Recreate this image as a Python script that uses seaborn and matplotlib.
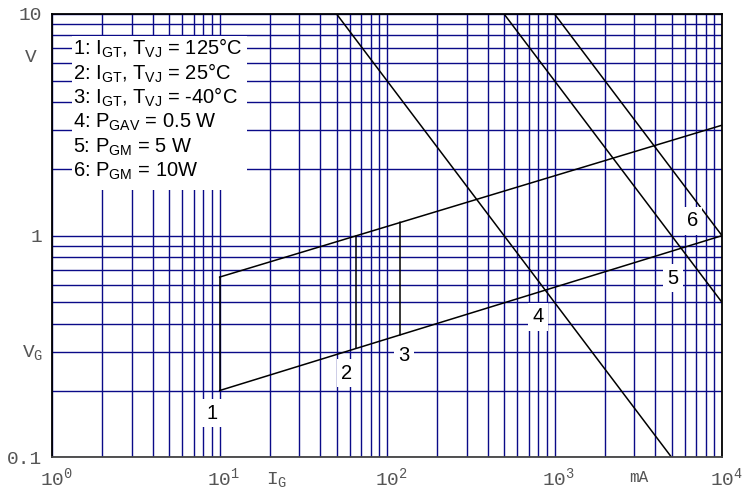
import matplotlib
matplotlib.use("Agg")
import numpy as np
import pandas as pd
import seaborn as sns
import matplotlib.pyplot as plt
from matplotlib.patches import Rectangle
from matplotlib.ticker import LogLocator, NullFormatter
from matplotlib.transforms import ScaledTranslation

# gate trigger area boundaries (I_G in mA, V_G in V)
boundary_i = [10, 10000]
boundary_v_high = [0.65, 3.15]
boundary_v_low = [0.2, 1.0]

# I_GT for T_VJ = 125 / 25 / -40 °C
igt_ma = [10, 65, 120]
igt_v_low = [0.2, 0.31, 0.357]
igt_v_high = [0.65, 1.0, 1.15]

# gate power limits
pgav_i, pgav_v = [50, 5000], [10, 0.1]        # 0.5 W
pgm5_i, pgm5_v = [500, 10000], [10, 0.5]      # 5 W
pgm10_i, pgm10_v = [1000, 10000], [10, 1.0]   # 10 W

legend_lines = [
    "1: I$_{GT}$, T$_{VJ}$ = 125°C",
    "2: I$_{GT}$, T$_{VJ}$ = 25°C",
    "3: I$_{GT}$, T$_{VJ}$ = -40°C",
    "4: P$_{GAV}$ = 0.5 W",
    "5: P$_{GM}$ = 5 W",
    "6: P$_{GM}$ = 10W",
]
curve_labels = ["1", "2", "3", "4", "5", "6"]
x_ticks = [1, 10, 100, 1000, 10000]
x_ticklabels = ["$10^{0}$", "$10^{1}$", "$10^{2}$", "$10^{3}$", "$10^{4}$"]
y_ticks = [0.1, 1, 10]
y_ticklabels = ["0.1", "1", "10"]

# build one long table, one unit per drawn line
rows = []
def add(name, xs, ys):
    for x, y in zip(xs, ys):
        rows.append({"curve": name, "I": x, "V": y})

add("upper", boundary_i, boundary_v_high)
add("lower", boundary_i, boundary_v_low)
for k, (i, lo, hi) in enumerate(zip(igt_ma, igt_v_low, igt_v_high)):
    add("igt%d" % k, [i, i], [lo, hi])
add("pgav", pgav_i, pgav_v)
add("pgm5", pgm5_i, pgm5_v)
add("pgm10", pgm10_i, pgm10_v)
df = pd.DataFrame(rows)

sns.set_theme(style="white")
plt.rcParams["font.family"] = ["Liberation Sans", "DejaVu Sans"]
plt.rcParams["mathtext.default"] = "regular"

fig = plt.figure(figsize=(7.44, 4.94), dpi=100)
ax = fig.add_axes([52 / 744, 1 - 457.3 / 494, 670 / 744, 443.3 / 494])
ax.set_xscale("log")
ax.set_yscale("log")

sns.lineplot(data=df, x="I", y="V", units="curve", estimator=None, sort=False,
             color="black", lw=1.1, ax=ax, zorder=2)

ax.set_xlim(1, 10000)
ax.set_ylim(0.1, 10)
ax.set_xlabel("")
ax.set_ylabel("")

# grid
grid_col = "#0a0a88"
for axis in (ax.xaxis, ax.yaxis):
    axis.set_major_locator(LogLocator(base=10, numticks=20))
    axis.set_minor_locator(LogLocator(base=10, subs=np.arange(2, 10), numticks=100))
    axis.set_minor_formatter(NullFormatter())
ax.grid(which="both", color=grid_col, lw=1.0)
ax.set_axisbelow(True)

for s in ax.spines.values():
    s.set_color("black")
    s.set_linewidth(1.3)
ax.spines["bottom"].set_color("#444444")

tick_col = "#555555"
mono = "Liberation Mono"
ax.set_xticks(x_ticks)
ax.set_xticklabels(x_ticklabels, fontfamily=mono, fontsize=14, color=tick_col)
ax.set_yticks(y_ticks)
ax.set_yticklabels(y_ticklabels, fontfamily=mono, fontsize=14, color=tick_col)
ax.tick_params(which="both", length=0)
ax.tick_params(axis="x", pad=7)
ax.tick_params(axis="y", pad=7)
for lbl in ax.get_xticklabels():
    lbl.set_transform(lbl.get_transform() + ScaledTranslation(3 / 72, 0, fig.dpi_scale_trans))

# axis captions
ax.text(-0.0224, 0.892, "V", transform=ax.transAxes, ha="right", va="baseline",
        fontfamily=mono, fontsize=14, color=tick_col)
ax.text(-0.013, 0.226, "V$_G$", transform=ax.transAxes, ha="right", va="baseline",
        fontfamily=mono, fontsize=14, color=tick_col)
ax.text(0.319, -0.060, "I$_G$", transform=ax.transAxes, ha="left", va="baseline",
        fontfamily=mono, fontsize=14, color=tick_col)
ax.text(0.861, -0.056, "mA", transform=ax.transAxes, ha="left", va="baseline",
        fontfamily=mono, fontsize=11.5, color=tick_col)

# legend block with white background
ax.add_patch(Rectangle((0.0299, 0.603), 0.261, 0.347, transform=ax.transAxes,
                       facecolor="white", edgecolor="none", zorder=3))
for k, line in enumerate(legend_lines):
    ypix = 55 + 24.3 * k
    ax.text(0.031, (457.3 - ypix) / 443.3, line, transform=ax.transAxes,
            ha="left", va="baseline", fontsize=14.5, color="black", zorder=4)

# curve numbers (pixel positions converted to axes fractions)
label_pix = [(211.7, 413), (346.7, 373.3), (404, 355), (538.3, 316.7), (673.3, 278.3), (692.3, 220.7)]
for txt, (px, py) in zip(curve_labels, label_pix):
    ax.text((px - 52) / 670, (457.3 - py) / 443.3, txt, transform=ax.transAxes,
            ha="center", va="center", fontsize=14.5, color="black", zorder=4,
            bbox=dict(boxstyle="square,pad=0.22", facecolor="white", edgecolor="none"))

fig.savefig("out.png", dpi=100)
